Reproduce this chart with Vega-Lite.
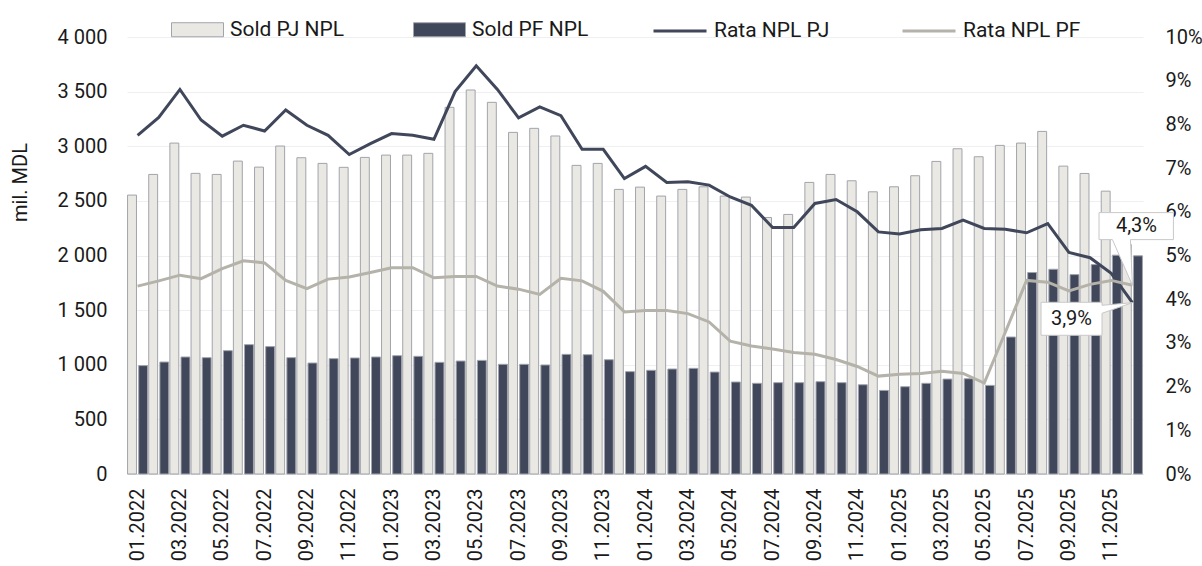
{
  "$schema": "https://vega.github.io/schema/vega-lite/v6.json",
  "width": 1016,
  "height": 437,
  "autosize": {"type": "none"},
  "padding": {"left": 127, "top": 37, "right": 59, "bottom": 92},
  "config": {
    "font": "Roboto",
    "view": {"stroke": null},
    "axis": {"labelColor": "#1a1a1a", "titleColor": "#1a1a1a", "labelFont": "Roboto", "titleFont": "Roboto"},
    "legend": {"labelColor": "#1a1a1a", "labelFont": "Roboto"}
  },
  "datasets": {
    "bars": [
      {"m": "01.2022", "s": "Sold PJ NPL", "v": 2553}, {"m": "01.2022", "s": "Sold PF NPL", "v": 992},
      {"m": "02.2022", "s": "Sold PJ NPL", "v": 2742}, {"m": "02.2022", "s": "Sold PF NPL", "v": 1025},
      {"m": "03.2022", "s": "Sold PJ NPL", "v": 3029}, {"m": "03.2022", "s": "Sold PF NPL", "v": 1071},
      {"m": "04.2022", "s": "Sold PJ NPL", "v": 2752}, {"m": "04.2022", "s": "Sold PF NPL", "v": 1065},
      {"m": "05.2022", "s": "Sold PJ NPL", "v": 2742}, {"m": "05.2022", "s": "Sold PF NPL", "v": 1129},
      {"m": "06.2022", "s": "Sold PJ NPL", "v": 2864}, {"m": "06.2022", "s": "Sold PF NPL", "v": 1184},
      {"m": "07.2022", "s": "Sold PJ NPL", "v": 2809}, {"m": "07.2022", "s": "Sold PF NPL", "v": 1166},
      {"m": "08.2022", "s": "Sold PJ NPL", "v": 3002}, {"m": "08.2022", "s": "Sold PF NPL", "v": 1065},
      {"m": "09.2022", "s": "Sold PJ NPL", "v": 2895}, {"m": "09.2022", "s": "Sold PF NPL", "v": 1016},
      {"m": "10.2022", "s": "Sold PJ NPL", "v": 2843}, {"m": "10.2022", "s": "Sold PF NPL", "v": 1056},
      {"m": "11.2022", "s": "Sold PJ NPL", "v": 2807}, {"m": "11.2022", "s": "Sold PF NPL", "v": 1062},
      {"m": "12.2022", "s": "Sold PJ NPL", "v": 2898}, {"m": "12.2022", "s": "Sold PF NPL", "v": 1071},
      {"m": "01.2023", "s": "Sold PJ NPL", "v": 2919}, {"m": "01.2023", "s": "Sold PF NPL", "v": 1083},
      {"m": "02.2023", "s": "Sold PJ NPL", "v": 2919}, {"m": "02.2023", "s": "Sold PF NPL", "v": 1077},
      {"m": "03.2023", "s": "Sold PJ NPL", "v": 2935}, {"m": "03.2023", "s": "Sold PF NPL", "v": 1022},
      {"m": "04.2023", "s": "Sold PJ NPL", "v": 3356}, {"m": "04.2023", "s": "Sold PF NPL", "v": 1034},
      {"m": "05.2023", "s": "Sold PJ NPL", "v": 3515}, {"m": "05.2023", "s": "Sold PF NPL", "v": 1040},
      {"m": "06.2023", "s": "Sold PJ NPL", "v": 3402}, {"m": "06.2023", "s": "Sold PF NPL", "v": 1004},
      {"m": "07.2023", "s": "Sold PJ NPL", "v": 3127}, {"m": "07.2023", "s": "Sold PF NPL", "v": 1004},
      {"m": "08.2023", "s": "Sold PJ NPL", "v": 3164}, {"m": "08.2023", "s": "Sold PF NPL", "v": 998},
      {"m": "09.2023", "s": "Sold PJ NPL", "v": 3094}, {"m": "09.2023", "s": "Sold PF NPL", "v": 1095},
      {"m": "10.2023", "s": "Sold PJ NPL", "v": 2825}, {"m": "10.2023", "s": "Sold PF NPL", "v": 1092},
      {"m": "11.2023", "s": "Sold PJ NPL", "v": 2843}, {"m": "11.2023", "s": "Sold PF NPL", "v": 1046},
      {"m": "12.2023", "s": "Sold PJ NPL", "v": 2605}, {"m": "12.2023", "s": "Sold PF NPL", "v": 937},
      {"m": "01.2024", "s": "Sold PJ NPL", "v": 2626}, {"m": "01.2024", "s": "Sold PF NPL", "v": 949},
      {"m": "02.2024", "s": "Sold PJ NPL", "v": 2544}, {"m": "02.2024", "s": "Sold PF NPL", "v": 961},
      {"m": "03.2024", "s": "Sold PJ NPL", "v": 2605}, {"m": "03.2024", "s": "Sold PF NPL", "v": 967},
      {"m": "04.2024", "s": "Sold PJ NPL", "v": 2629}, {"m": "04.2024", "s": "Sold PF NPL", "v": 933},
      {"m": "05.2024", "s": "Sold PJ NPL", "v": 2544}, {"m": "05.2024", "s": "Sold PF NPL", "v": 842},
      {"m": "06.2024", "s": "Sold PJ NPL", "v": 2535}, {"m": "06.2024", "s": "Sold PF NPL", "v": 830},
      {"m": "07.2024", "s": "Sold PJ NPL", "v": 2348}, {"m": "07.2024", "s": "Sold PF NPL", "v": 836},
      {"m": "08.2024", "s": "Sold PJ NPL", "v": 2376}, {"m": "08.2024", "s": "Sold PF NPL", "v": 836},
      {"m": "09.2024", "s": "Sold PJ NPL", "v": 2669}, {"m": "09.2024", "s": "Sold PF NPL", "v": 845},
      {"m": "10.2024", "s": "Sold PJ NPL", "v": 2742}, {"m": "10.2024", "s": "Sold PF NPL", "v": 836},
      {"m": "11.2024", "s": "Sold PJ NPL", "v": 2684}, {"m": "11.2024", "s": "Sold PF NPL", "v": 817},
      {"m": "12.2024", "s": "Sold PJ NPL", "v": 2583}, {"m": "12.2024", "s": "Sold PF NPL", "v": 765},
      {"m": "01.2025", "s": "Sold PJ NPL", "v": 2629}, {"m": "01.2025", "s": "Sold PF NPL", "v": 799},
      {"m": "02.2025", "s": "Sold PJ NPL", "v": 2730}, {"m": "02.2025", "s": "Sold PF NPL", "v": 830},
      {"m": "03.2025", "s": "Sold PJ NPL", "v": 2861}, {"m": "03.2025", "s": "Sold PF NPL", "v": 869},
      {"m": "04.2025", "s": "Sold PJ NPL", "v": 2977}, {"m": "04.2025", "s": "Sold PF NPL", "v": 872},
      {"m": "05.2025", "s": "Sold PJ NPL", "v": 2904}, {"m": "05.2025", "s": "Sold PF NPL", "v": 811},
      {"m": "06.2025", "s": "Sold PJ NPL", "v": 3008}, {"m": "06.2025", "s": "Sold PF NPL", "v": 1254},
      {"m": "07.2025", "s": "Sold PJ NPL", "v": 3029}, {"m": "07.2025", "s": "Sold PF NPL", "v": 1844},
      {"m": "08.2025", "s": "Sold PJ NPL", "v": 3136}, {"m": "08.2025", "s": "Sold PF NPL", "v": 1874},
      {"m": "09.2025", "s": "Sold PJ NPL", "v": 2818}, {"m": "09.2025", "s": "Sold PF NPL", "v": 1825},
      {"m": "10.2025", "s": "Sold PJ NPL", "v": 2751}, {"m": "10.2025", "s": "Sold PF NPL", "v": 1917},
      {"m": "11.2025", "s": "Sold PJ NPL", "v": 2589}, {"m": "11.2025", "s": "Sold PF NPL", "v": 2003},
      {"m": "12.2025", "s": "Sold PJ NPL", "v": 2100}, {"m": "12.2025", "s": "Sold PF NPL", "v": 1997}
    ],
    "lines": [
      {"m": "01.2022", "s": "Rata NPL PJ", "r": 7.75}, {"m": "01.2022", "s": "Rata NPL PF", "r": 4.30},
      {"m": "02.2022", "s": "Rata NPL PJ", "r": 8.16}, {"m": "02.2022", "s": "Rata NPL PF", "r": 4.42},
      {"m": "03.2022", "s": "Rata NPL PJ", "r": 8.80}, {"m": "03.2022", "s": "Rata NPL PF", "r": 4.55},
      {"m": "04.2022", "s": "Rata NPL PJ", "r": 8.10}, {"m": "04.2022", "s": "Rata NPL PF", "r": 4.47},
      {"m": "05.2022", "s": "Rata NPL PJ", "r": 7.73}, {"m": "05.2022", "s": "Rata NPL PF", "r": 4.70},
      {"m": "06.2022", "s": "Rata NPL PJ", "r": 7.98}, {"m": "06.2022", "s": "Rata NPL PF", "r": 4.88},
      {"m": "07.2022", "s": "Rata NPL PJ", "r": 7.85}, {"m": "07.2022", "s": "Rata NPL PF", "r": 4.83},
      {"m": "08.2022", "s": "Rata NPL PJ", "r": 8.33}, {"m": "08.2022", "s": "Rata NPL PF", "r": 4.43},
      {"m": "09.2022", "s": "Rata NPL PJ", "r": 7.98}, {"m": "09.2022", "s": "Rata NPL PF", "r": 4.24},
      {"m": "10.2022", "s": "Rata NPL PJ", "r": 7.75}, {"m": "10.2022", "s": "Rata NPL PF", "r": 4.46},
      {"m": "11.2022", "s": "Rata NPL PJ", "r": 7.31}, {"m": "11.2022", "s": "Rata NPL PF", "r": 4.51},
      {"m": "12.2022", "s": "Rata NPL PJ", "r": 7.56}, {"m": "12.2022", "s": "Rata NPL PF", "r": 4.61},
      {"m": "01.2023", "s": "Rata NPL PJ", "r": 7.79}, {"m": "01.2023", "s": "Rata NPL PF", "r": 4.72},
      {"m": "02.2023", "s": "Rata NPL PJ", "r": 7.75}, {"m": "02.2023", "s": "Rata NPL PF", "r": 4.72},
      {"m": "03.2023", "s": "Rata NPL PJ", "r": 7.66}, {"m": "03.2023", "s": "Rata NPL PF", "r": 4.49},
      {"m": "04.2023", "s": "Rata NPL PJ", "r": 8.75}, {"m": "04.2023", "s": "Rata NPL PF", "r": 4.52},
      {"m": "05.2023", "s": "Rata NPL PJ", "r": 9.34}, {"m": "05.2023", "s": "Rata NPL PF", "r": 4.52},
      {"m": "06.2023", "s": "Rata NPL PJ", "r": 8.80}, {"m": "06.2023", "s": "Rata NPL PF", "r": 4.30},
      {"m": "07.2023", "s": "Rata NPL PJ", "r": 8.15}, {"m": "07.2023", "s": "Rata NPL PF", "r": 4.23},
      {"m": "08.2023", "s": "Rata NPL PJ", "r": 8.40}, {"m": "08.2023", "s": "Rata NPL PF", "r": 4.11},
      {"m": "09.2023", "s": "Rata NPL PJ", "r": 8.20}, {"m": "09.2023", "s": "Rata NPL PF", "r": 4.48},
      {"m": "10.2023", "s": "Rata NPL PJ", "r": 7.43}, {"m": "10.2023", "s": "Rata NPL PF", "r": 4.42},
      {"m": "11.2023", "s": "Rata NPL PJ", "r": 7.43}, {"m": "11.2023", "s": "Rata NPL PF", "r": 4.18},
      {"m": "12.2023", "s": "Rata NPL PJ", "r": 6.76}, {"m": "12.2023", "s": "Rata NPL PF", "r": 3.71},
      {"m": "01.2024", "s": "Rata NPL PJ", "r": 7.04}, {"m": "01.2024", "s": "Rata NPL PF", "r": 3.74},
      {"m": "02.2024", "s": "Rata NPL PJ", "r": 6.67}, {"m": "02.2024", "s": "Rata NPL PF", "r": 3.74},
      {"m": "03.2024", "s": "Rata NPL PJ", "r": 6.69}, {"m": "03.2024", "s": "Rata NPL PF", "r": 3.67},
      {"m": "04.2024", "s": "Rata NPL PJ", "r": 6.61}, {"m": "04.2024", "s": "Rata NPL PF", "r": 3.48},
      {"m": "05.2024", "s": "Rata NPL PJ", "r": 6.34}, {"m": "05.2024", "s": "Rata NPL PF", "r": 3.04},
      {"m": "06.2024", "s": "Rata NPL PJ", "r": 6.15}, {"m": "06.2024", "s": "Rata NPL PF", "r": 2.93},
      {"m": "07.2024", "s": "Rata NPL PJ", "r": 5.64}, {"m": "07.2024", "s": "Rata NPL PF", "r": 2.86},
      {"m": "08.2024", "s": "Rata NPL PJ", "r": 5.64}, {"m": "08.2024", "s": "Rata NPL PF", "r": 2.78},
      {"m": "09.2024", "s": "Rata NPL PJ", "r": 6.19}, {"m": "09.2024", "s": "Rata NPL PF", "r": 2.74},
      {"m": "10.2024", "s": "Rata NPL PJ", "r": 6.28}, {"m": "10.2024", "s": "Rata NPL PF", "r": 2.62},
      {"m": "11.2024", "s": "Rata NPL PJ", "r": 6.00}, {"m": "11.2024", "s": "Rata NPL PF", "r": 2.46},
      {"m": "12.2024", "s": "Rata NPL PJ", "r": 5.54}, {"m": "12.2024", "s": "Rata NPL PF", "r": 2.24},
      {"m": "01.2025", "s": "Rata NPL PJ", "r": 5.49}, {"m": "01.2025", "s": "Rata NPL PF", "r": 2.28},
      {"m": "02.2025", "s": "Rata NPL PJ", "r": 5.59}, {"m": "02.2025", "s": "Rata NPL PF", "r": 2.30},
      {"m": "03.2025", "s": "Rata NPL PJ", "r": 5.62}, {"m": "03.2025", "s": "Rata NPL PF", "r": 2.35},
      {"m": "04.2025", "s": "Rata NPL PJ", "r": 5.81}, {"m": "04.2025", "s": "Rata NPL PF", "r": 2.30},
      {"m": "05.2025", "s": "Rata NPL PJ", "r": 5.62}, {"m": "05.2025", "s": "Rata NPL PF", "r": 2.08},
      {"m": "06.2025", "s": "Rata NPL PJ", "r": 5.60}, {"m": "06.2025", "s": "Rata NPL PF", "r": 3.25},
      {"m": "07.2025", "s": "Rata NPL PJ", "r": 5.52}, {"m": "07.2025", "s": "Rata NPL PF", "r": 4.43},
      {"m": "08.2025", "s": "Rata NPL PJ", "r": 5.73}, {"m": "08.2025", "s": "Rata NPL PF", "r": 4.39},
      {"m": "09.2025", "s": "Rata NPL PJ", "r": 5.07}, {"m": "09.2025", "s": "Rata NPL PF", "r": 4.19},
      {"m": "10.2025", "s": "Rata NPL PJ", "r": 4.95}, {"m": "10.2025", "s": "Rata NPL PF", "r": 4.34},
      {"m": "11.2025", "s": "Rata NPL PJ", "r": 4.59}, {"m": "11.2025", "s": "Rata NPL PF", "r": 4.43},
      {"m": "12.2025", "s": "Rata NPL PJ", "r": 3.92}, {"m": "12.2025", "s": "Rata NPL PF", "r": 4.32}
    ]
  },
  "layer": [
    {
      "data": {"name": "bars"},
      "mark": {"type": "bar", "stroke": "#a2a4ac", "strokeWidth": 1},
      "encoding": {
        "x": {
          "field": "m", "type": "nominal", "sort": null,
          "scale": {"paddingInner": 0, "paddingOuter": 0},
          "axis": {
            "title": null,
            "values": ["01.2022", "03.2022", "05.2022", "07.2022", "09.2022", "11.2022", "01.2023", "03.2023", "05.2023", "07.2023", "09.2023", "11.2023", "01.2024", "03.2024", "05.2024", "07.2024", "09.2024", "11.2024", "01.2025", "03.2025", "05.2025", "07.2025", "09.2025", "11.2025"],
            "labelAngle": -90, "labelAlign": "right", "labelBaseline": "middle",
            "labelFontSize": 20, "labelPadding": 14, "ticks": false,
            "domain": true, "domainColor": "#dcdde2", "grid": false
          }
        },
        "xOffset": {
          "field": "s", "type": "nominal", "sort": ["Sold PJ NPL", "Sold PF NPL"],
          "scale": {"paddingInner": 0.2, "paddingOuter": 0.05}
        },
        "y": {
          "field": "v", "type": "quantitative",
          "scale": {"domain": [0, 4000]},
          "axis": {
            "values": [0, 500, 1000, 1500, 2000, 2500, 3000, 3500, 4000],
            "labelExpr": "replace(format(datum.value, ','), ',', ' ')",
            "labelFontSize": 20, "labelPadding": 20, "ticks": false, "domain": false,
            "grid": true, "gridColor": "#efeff1", "gridWidth": 1,
            "title": "mil. MDL", "titleFontSize": 20, "titleFontWeight": "normal",
            "titleAngle": -90, "titleX": -107, "titleY": 145, "titleAlign": "center", "titleBaseline": "middle"
          }
        },
        "fill": {
          "field": "s", "type": "nominal",
          "scale": {"domain": ["Sold PJ NPL", "Sold PF NPL"], "range": ["#e9e8e3", "#40475a"]},
          "legend": {
            "orient": "none", "legendX": 44, "legendY": -34, "direction": "horizontal",
            "title": null, "symbolType": "M-1,-0.27H1V0.27H-1Z", "symbolSize": 2704,
            "symbolStrokeColor": "#a2a4ac", "symbolStrokeWidth": 1,
            "labelFontSize": 21, "labelOffset": 6, "columnPadding": 66
          }
        }
      }
    },
    {
      "layer": [
        {
          "data": {"name": "lines"},
          "mark": {"type": "line", "strokeWidth": 3},
          "encoding": {
            "x": {"field": "m", "type": "nominal", "sort": null},
            "y": {
              "field": "r", "type": "quantitative",
              "scale": {"domain": [0, 10]},
              "axis": {
                "orient": "right",
                "values": [0, 1, 2, 3, 4, 5, 6, 7, 8, 9, 10],
                "labelExpr": "datum.value + '%'",
                "labelFontSize": 20, "labelPadding": 22, "ticks": false, "domain": false,
                "grid": false, "title": null
              }
            },
            "stroke": {
              "field": "s", "type": "nominal",
              "scale": {"domain": ["Rata NPL PJ", "Rata NPL PF"], "range": ["#40475a", "#b4b2a9"]},
              "legend": {
                "orient": "none", "legendX": 525, "legendY": -34, "direction": "horizontal",
                "title": null, "symbolType": "stroke", "symbolSize": 2809, "symbolStrokeWidth": 3,
                "labelFontSize": 21, "labelOffset": 6, "columnPadding": 66
              }
            }
          }
        },
        {
          "data": {"values": [{"m": "12.2025", "r": 4.32}]},
          "mark": {"type": "point", "shape": "M-1.67,-3.63H2.05V-2.28H-0.1L0,0L-1,-2.28H-1.67Z", "size": 1600, "filled": true, "fill": "#ffffff", "stroke": "#c8c8c8", "strokeWidth": 1, "opacity": 1},
          "encoding": {
            "x": {"field": "m", "type": "nominal", "sort": null},
            "y": {"field": "r", "type": "quantitative"}
          }
        },
        {
          "data": {"values": [{"m": "12.2025", "r": 3.92}]},
          "mark": {"type": "point", "shape": "M-4.57,-0.02H-1.52V0.13L0,0L-1.52,0.53V1.63H-4.57Z", "size": 1600, "filled": true, "fill": "#ffffff", "stroke": "#c8c8c8", "strokeWidth": 1, "opacity": 1},
          "encoding": {
            "x": {"field": "m", "type": "nominal", "sort": null},
            "y": {"field": "r", "type": "quantitative"}
          }
        },
        {
          "data": {"values": [{"m": "12.2025", "r": 4.32, "t": "4,3%"}]},
          "mark": {"type": "text", "fontSize": 20, "color": "#1a1a1a", "dx": 4, "dy": -59, "align": "center", "baseline": "middle"},
          "encoding": {
            "x": {"field": "m", "type": "nominal", "sort": null},
            "y": {"field": "r", "type": "quantitative"},
            "text": {"field": "t"}
          }
        },
        {
          "data": {"values": [{"m": "12.2025", "r": 3.92, "t": "3,9%"}]},
          "mark": {"type": "text", "fontSize": 20, "color": "#1a1a1a", "dx": -61, "dy": 16, "align": "center", "baseline": "middle"},
          "encoding": {
            "x": {"field": "m", "type": "nominal", "sort": null},
            "y": {"field": "r", "type": "quantitative"},
            "text": {"field": "t"}
          }
        }
      ]
    }
  ],
  "resolve": {"scale": {"y": "independent", "fill": "independent", "stroke": "independent"}}
}
